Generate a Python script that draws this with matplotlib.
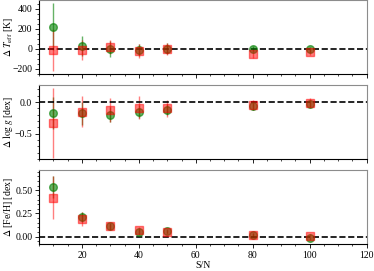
import matplotlib.pyplot as plt
import numpy as np

plt.rcParams['font.family'] = 'serif'
plt.rcParams['font.serif'] = ['Liberation Serif', 'DejaVu Serif']
plt.rcParams['mathtext.fontset'] = 'stix'
plt.rcParams['font.size'] = 7

# S/N values
snr = [10, 20, 30, 40, 50, 80, 100]

# Delta Teff [K]
teff_g = [220, 30, -5, -15, 0, 0, -5]
teff_g_err = [235, 100, 80, 60, 55, 25, 25]
teff_r = [-15, -10, 20, -20, -5, -50, -35]
teff_r_err = [210, 100, 70, 70, 60, 40, 30]

# Delta logg [dex]
logg_g = [-0.17, -0.18, -0.20, -0.15, -0.12, -0.07, -0.03]
logg_g_err = [0.25, 0.18, 0.12, 0.10, 0.09, 0.05, 0.05]
logg_r = [-0.33, -0.15, -0.13, -0.09, -0.10, -0.05, -0.01]
logg_r_err = [0.55, 0.24, 0.19, 0.18, 0.14, 0.08, 0.08]

# Delta [Fe/H] [dex]
feh_g = [0.54, 0.21, 0.11, 0.05, 0.06, 0.02, -0.02]
feh_g_err = [0.12, 0.05, 0.04, 0.03, 0.02, 0.02, 0.02]
feh_r = [0.42, 0.19, 0.11, 0.07, 0.05, 0.02, 0.01]
feh_r_err = [0.23, 0.08, 0.03, 0.03, 0.02, 0.02, 0.02]

panels = [
    (teff_g, teff_g_err, teff_r, teff_r_err, r'$\Delta\ T_{\rm eff}$ [K]', (-250, 490), [-200, 0, 200, 400]),
    (logg_g, logg_g_err, logg_r, logg_r_err, r'$\Delta\ \log g$ [dex]', (-0.9, 0.27), [-0.5, 0.0]),
    (feh_g, feh_g_err, feh_r, feh_r_err, r'$\Delta$ [Fe/H] [dex]', (-0.08, 0.72), [0.0, 0.25, 0.5]),
]

fig, axes = plt.subplots(3, 1, figsize=(3.74, 2.71), dpi=100, sharex=True)
fig.subplots_adjust(left=0.105, right=0.98, top=1.0, bottom=0.1, hspace=0.15)

for ax, (g, ge, r, re, lab, yl, yt) in zip(axes, panels):
    ax.errorbar(snr, g, yerr=ge, fmt='o', color='green', alpha=0.6, ms=5.5, elinewidth=1, capsize=0)
    ax.errorbar(snr, r, yerr=re, fmt='s', color='red', alpha=0.5, ms=5.5, elinewidth=1, capsize=0)
    ax.axhline(0, color='k', ls='--', lw=1.2)
    ax.set_ylim(*yl)
    ax.set_yticks(yt)
    ax.set_ylabel(lab)
    ax.yaxis.set_label_coords(-0.075, 0.5)
    ax.minorticks_on()
    ax.tick_params(which='both', direction='out', top=False, right=False, pad=2)
    ax.tick_params(which='major', length=3, width=0.6)
    ax.tick_params(which='minor', length=1.5, width=0.5)
    for s in ['top', 'right']:
        ax.spines[s].set_color('0.55')
    for s in ['left', 'bottom']:
        ax.spines[s].set_color('k')
    for s in ax.spines.values():
        s.set_linewidth(0.8)

axes[0].yaxis.set_major_formatter(plt.FuncFormatter(lambda v, p: '%d' % v if v >= 0 else '\u2212%d' % -v))
axes[1].yaxis.set_major_formatter(plt.FuncFormatter(lambda v, p: '%.1f' % v if v >= 0 else '\u2212%.1f' % -v))
axes[2].yaxis.set_major_formatter(plt.FuncFormatter(lambda v, p: '%.2f' % v))
axes[2].set_xlim(5, 120)
axes[2].set_xticks([20, 40, 60, 80, 100, 120])
axes[2].set_xlabel('S/N', labelpad=1)
for ax in axes[:2]:
    ax.tick_params(labelbottom=False)

fig.savefig('out.png', dpi=100)
